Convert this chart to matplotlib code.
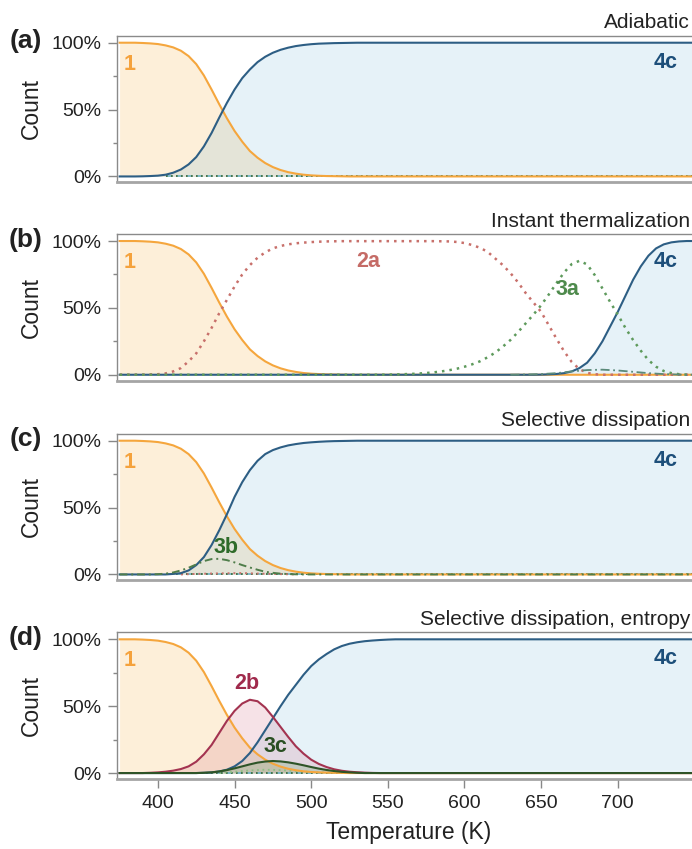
import matplotlib
matplotlib.use("Agg")
import matplotlib.pyplot as plt
from matplotlib.ticker import FixedLocator, PercentFormatter

plt.rcParams['font.family'] = ['Liberation Sans', 'DejaVu Sans']

# ---------------- data (fraction of count vs temperature in K) ----------------
# species 1 (shared by all panels)
s1_T = [375, 380, 385, 390, 395, 400, 405, 410, 415, 420, 425, 430, 435, 440, 445,
        450, 455, 460, 465, 470, 475, 480, 485, 490, 495, 500, 505, 510, 515, 520,
        525, 750]
s1_v = [1.0, 1.0, 1.0, 0.998, 0.995, 0.99, 0.98, 0.965, 0.94, 0.90, 0.84, 0.755,
        0.65, 0.54, 0.435, 0.34, 0.26, 0.19, 0.14, 0.10, 0.07, 0.048, 0.032, 0.021,
        0.013, 0.008, 0.005, 0.003, 0.002, 0.001, 0.0, 0.0]

# (a) adiabatic: 4c
a4c_T = [375, 385, 390, 395, 400, 405, 410, 415, 420, 425, 430, 435, 440, 445, 450,
         455, 460, 465, 470, 475, 480, 485, 490, 495, 500, 505, 510, 515, 520, 525,
         530, 750]
a4c_v = [0.0, 0.0, 0.001, 0.003, 0.006, 0.013, 0.028, 0.052, 0.09, 0.145, 0.225,
         0.325, 0.44, 0.55, 0.65, 0.735, 0.80, 0.855, 0.895, 0.925, 0.947, 0.963,
         0.975, 0.983, 0.989, 0.993, 0.995, 0.997, 0.998, 0.999, 1.0, 1.0]

# (b) instant thermalization: 2a, 3a, 4c, minor bump
b2a_T = [375, 390, 395, 400, 405, 410, 415, 420, 425, 430, 435, 440, 445, 450, 455,
         460, 465, 470, 475, 480, 485, 490, 495, 500, 505, 510, 520, 580, 590, 595,
         600, 605, 610, 615, 620, 625, 630, 635, 640, 645, 650, 655, 660, 665, 670,
         675, 680, 685, 690, 750]
b2a_v = [0.0, 0.0, 0.002, 0.004, 0.01, 0.025, 0.05, 0.10, 0.16, 0.25, 0.35, 0.46,
         0.56, 0.66, 0.75, 0.82, 0.875, 0.915, 0.945, 0.963, 0.975, 0.983, 0.988,
         0.992, 0.995, 0.997, 0.999, 0.999, 0.997, 0.993, 0.985, 0.97, 0.95, 0.92,
         0.87, 0.82, 0.76, 0.69, 0.61, 0.54, 0.47, 0.37, 0.27, 0.175, 0.095, 0.042,
         0.014, 0.004, 0.0, 0.0]
b3a_T = [375, 545, 550, 555, 560, 565, 570, 575, 580, 585, 590, 595, 600, 605, 610,
         615, 620, 625, 630, 635, 640, 645, 650, 655, 660, 665, 670, 675, 680, 685,
         690, 695, 700, 705, 710, 715, 720, 725, 730, 735, 740, 745, 750]
b3a_v = [0.0, 0.0, 0.001, 0.002, 0.004, 0.006, 0.009, 0.013, 0.018, 0.025, 0.034,
         0.045, 0.06, 0.078, 0.10, 0.13, 0.165, 0.21, 0.26, 0.32, 0.385, 0.45, 0.52,
         0.60, 0.685, 0.765, 0.828, 0.852, 0.825, 0.745, 0.645, 0.545, 0.45, 0.35,
         0.26, 0.18, 0.11, 0.06, 0.028, 0.012, 0.004, 0.001, 0.0]
b4c_T = [375, 645, 650, 655, 660, 665, 670, 675, 680, 685, 690, 695, 700, 705, 710,
         715, 720, 725, 730, 735, 740, 745, 750]
b4c_v = [0.0, 0.0, 0.001, 0.003, 0.006, 0.012, 0.025, 0.05, 0.09, 0.16, 0.25, 0.36,
         0.47, 0.59, 0.71, 0.81, 0.89, 0.945, 0.975, 0.99, 0.997, 1.0, 1.0]
b_minor_T = [630, 640, 650, 660, 670, 680, 690, 700, 710, 720, 730, 740, 750]
b_minor_v = [0.0, 0.002, 0.005, 0.012, 0.025, 0.035, 0.038, 0.032, 0.022, 0.012,
             0.005, 0.001, 0.0]

# (c) selective dissipation: 3b, 4c, minor 2a
c4c_T = [375, 405, 410, 415, 420, 425, 430, 435, 440, 445, 450, 455, 460, 465, 470,
         475, 480, 485, 490, 495, 500, 505, 510, 515, 520, 525, 530, 750]
c4c_v = [0.0, 0.0, 0.004, 0.01, 0.03, 0.07, 0.13, 0.22, 0.33, 0.45, 0.58, 0.69,
         0.78, 0.85, 0.90, 0.93, 0.95, 0.965, 0.975, 0.983, 0.988, 0.992, 0.995,
         0.997, 0.998, 0.999, 1.0, 1.0]
c3b_T = [375, 395, 400, 405, 410, 415, 420, 425, 430, 435, 440, 445, 450, 455, 460,
         465, 470, 475, 480, 485, 490, 495, 750]
c3b_v = [0.0, 0.0, 0.002, 0.006, 0.015, 0.03, 0.05, 0.075, 0.10, 0.115, 0.117,
         0.107, 0.09, 0.07, 0.052, 0.035, 0.02, 0.012, 0.006, 0.003, 0.001, 0.0, 0.0]
c2a_T = [415, 425, 440, 455, 470, 490]
c2a_v = [0.0, 0.004, 0.008, 0.01, 0.005, 0.0]

# (d) selective dissipation, entropy: 2b, 3c, 4c, minor
d2b_T = [375, 390, 395, 400, 405, 410, 415, 420, 425, 430, 435, 440, 445, 450, 455,
         460, 465, 470, 475, 480, 485, 490, 495, 500, 505, 510, 515, 520, 525, 530,
         535, 540, 545, 750]
d2b_v = [0.0, 0.0, 0.002, 0.005, 0.01, 0.018, 0.03, 0.05, 0.085, 0.14, 0.21, 0.30,
         0.39, 0.465, 0.52, 0.548, 0.537, 0.49, 0.42, 0.345, 0.27, 0.20, 0.145, 0.10,
         0.068, 0.045, 0.028, 0.017, 0.01, 0.006, 0.003, 0.001, 0.0, 0.0]
d3c_T = [375, 425, 430, 435, 440, 445, 450, 455, 460, 465, 470, 475, 480, 485, 490,
         495, 500, 505, 510, 515, 520, 525, 530, 535, 750]
d3c_v = [0.0, 0.0, 0.002, 0.005, 0.012, 0.022, 0.035, 0.05, 0.065, 0.078, 0.086,
         0.09, 0.087, 0.08, 0.07, 0.058, 0.045, 0.033, 0.023, 0.015, 0.009, 0.005,
         0.002, 0.0, 0.0]
d4c_T = [375, 425, 430, 435, 440, 445, 450, 455, 460, 465, 470, 475, 480, 485, 490,
         495, 500, 505, 510, 515, 520, 525, 530, 535, 540, 545, 550, 555, 750]
d4c_v = [0.0, 0.0, 0.002, 0.005, 0.012, 0.025, 0.05, 0.09, 0.15, 0.23, 0.32, 0.41,
         0.50, 0.585, 0.66, 0.735, 0.80, 0.85, 0.89, 0.925, 0.95, 0.967, 0.978, 0.986,
         0.991, 0.995, 0.998, 1.0, 1.0]
d_minor_T = [440, 450, 460, 470, 480, 490, 500, 510, 520]
d_minor_v = [0.0, 0.01, 0.02, 0.025, 0.022, 0.015, 0.008, 0.003, 0.0]

# near-zero traces of other species
trace_T = [405, 750]
trace_v = [0.0, 0.0]

titles = ["Adiabatic", "Instant thermalization", "Selective dissipation",
          "Selective dissipation, entropy"]
letters = ["(a)", "(b)", "(c)", "(d)"]
xticks = [400, 450, 500, 550, 600, 650, 700]

# ---------------- style ----------------
C1 = '#f5a63d'; F1 = '#f5b041'
C4 = '#2d5e84'; F4 = '#5aaad6'
C2a = '#c8706b'; C3a = '#5e9a5c'; C3b = '#4f7d4a'
C2b = '#a33350'; F2b = '#d0607a'
C3c = '#2e5427'; F3c = '#6aa060'
L1 = '#f5a23c'; L4 = '#1d4f7a'
LFS = 15.5

W, H = 692, 849
fig = plt.figure(figsize=(W / 100, H / 100), dpi=100)
left = 117 / W
width = (694.4 - 117) / W
tops_px = [35.7, 234.0, 433.7, 632.3]
ax_h_px = 146.5

axes = []
for i, top in enumerate(tops_px):
    ax = fig.add_axes([left, 1 - (top + ax_h_px) / H, width, ax_h_px / H])
    axes.append(ax)
    ax.set_xlim(373.3, 750)
    ax.set_ylim(-0.043, 1.0525)
    ax.yaxis.set_major_locator(FixedLocator([0, 0.5, 1.0]))
    ax.yaxis.set_minor_locator(FixedLocator([0.25, 0.75]))
    ax.yaxis.set_major_formatter(PercentFormatter(1.0, decimals=0))
    ax.tick_params(axis='y', which='major', length=6.5, width=1.0, color='#888888',
                   labelsize=14, pad=5, labelcolor='#222222')
    ax.tick_params(axis='y', which='minor', length=3, width=1.0, color='#888888')
    for s in ['top', 'left']:
        ax.spines[s].set_color('#8a8a8a')
        ax.spines[s].set_linewidth(1.0)
    ax.spines['right'].set_visible(False)
    ax.spines['bottom'].set_color('#a5a5a5')
    ax.spines['bottom'].set_linewidth(2.0)
    ax.set_ylabel('Count', fontsize=16.5, va='center', color='#222222')
    ax.yaxis.set_label_coords((31 - 117) / (694.4 - 117), 0.5)
    if i < 3:
        ax.tick_params(axis='x', which='both', bottom=False, labelbottom=False)
    else:
        ax.set_xticks(xticks)
        ax.tick_params(axis='x', length=6.5, width=1.0, color='#888888',
                       labelsize=14, pad=5, labelcolor='#222222')
    ax.text((690 - 117) / (694.4 - 117), 1 + 7.5 / ax_h_px, titles[i],
            transform=ax.transAxes, ha='right', va='baseline', fontsize=15,
            color='#222222')
    fig.text(26 / W, 1 - (top + 5.5) / H, letters[i], ha='center', va='center',
             fontsize=19, fontweight='bold', color='#222222')

    # species 1 in every panel
    ax.fill_between(s1_T, 0, s1_v, color=F1, alpha=0.2, linewidth=0)
    ax.text(377.8, 0.84, '1', color=L1, fontsize=LFS, fontweight='bold',
            ha='left', va='center')

lw = 1.5
# (a)
ax = axes[0]
ax.fill_between(a4c_T, 0, a4c_v, color=F4, alpha=0.15, linewidth=0)
ax.plot(trace_T, trace_v, color='#6fb3c9', lw=1.2, ls=(0, (4, 2)))
ax.plot(trace_T, trace_v, color='#3d6b35', lw=1.2, ls=(0, (1, 2)))
ax.plot(s1_T, s1_v, color=C1, lw=lw)
ax.plot(a4c_T, a4c_v, color=C4, lw=lw)
ax.text(731, 0.85, '4c', color=L4, fontsize=LFS, fontweight='bold', ha='center', va='center')

# (b)
ax = axes[1]
ax.fill_between(b4c_T, 0, b4c_v, color=F4, alpha=0.15, linewidth=0)
ax.plot(s1_T, s1_v, color=C1, lw=lw)
ax.plot(b4c_T, b4c_v, color=C4, lw=lw)
ax.plot(b2a_T, b2a_v, color=C2a, lw=1.8, ls=(0, (1, 2)))
ax.plot(b3a_T, b3a_v, color=C3a, lw=1.8, ls=(0, (1, 2)))
ax.plot(b_minor_T, b_minor_v, color='#5b8a7a', lw=1.3, ls=(0, (5, 2, 1, 2)))
ax.text(537.4, 0.847, '2a', color='#c56b66', fontsize=LFS, fontweight='bold', ha='center', va='center')
ax.text(667, 0.635, '3a', color='#4e8a4c', fontsize=LFS, fontweight='bold', ha='center', va='center')
ax.text(731, 0.847, '4c', color=L4, fontsize=LFS, fontweight='bold', ha='center', va='center')

# (c)
ax = axes[2]
ax.fill_between(c4c_T, 0, c4c_v, color=F4, alpha=0.15, linewidth=0)
ax.plot(trace_T, trace_v, color='#6fb3c9', lw=1.2, ls=(0, (4, 2)))
ax.plot(trace_T, trace_v, color='#3d6b35', lw=1.2, ls=(0, (1, 2)))
ax.plot(c2a_T, c2a_v, color=C2a, lw=1.4, ls=(0, (1, 2)))
ax.plot(s1_T, s1_v, color=C1, lw=lw)
ax.plot(c4c_T, c4c_v, color=C4, lw=lw)
ax.plot(c3b_T, c3b_v, color=C3b, lw=1.4, ls=(0, (4, 2, 1, 2)))
ax.text(444.6, 0.205, '3b', color='#2f6b2a', fontsize=LFS, fontweight='bold', ha='center', va='center')
ax.text(731, 0.85, '4c', color=L4, fontsize=LFS, fontweight='bold', ha='center', va='center')

# (d)
ax = axes[3]
ax.fill_between(d4c_T, 0, d4c_v, color=F4, alpha=0.15, linewidth=0)
ax.fill_between(d2b_T, 0, d2b_v, color=F2b, alpha=0.18, linewidth=0)
ax.fill_between(d3c_T, 0, d3c_v, color=F3c, alpha=0.25, linewidth=0)
ax.plot(trace_T, trace_v, color='#6fb3c9', lw=1.2, ls=(0, (4, 2)))
ax.plot(trace_T, trace_v, color='#3d6b35', lw=1.2, ls=(0, (1, 2)))
ax.plot(d_minor_T, d_minor_v, color='#8fbf85', lw=1.3, ls=(0, (1, 2)))
ax.plot(s1_T, s1_v, color=C1, lw=lw)
ax.plot(d4c_T, d4c_v, color=C4, lw=lw)
ax.plot(d2b_T, d2b_v, color=C2b, lw=lw)
ax.plot(d3c_T, d3c_v, color=C3c, lw=lw)
ax.text(457.7, 0.67, '2b', color='#a02a4c', fontsize=LFS, fontweight='bold', ha='center', va='center')
ax.text(476.6, 0.195, '3c', color='#2a4f22', fontsize=LFS, fontweight='bold', ha='center', va='center')
ax.text(731, 0.86, '4c', color=L4, fontsize=LFS, fontweight='bold', ha='center', va='center')

fig.text(409 / W, 1 - 833 / H, 'Temperature (K)', ha='center', va='center',
         fontsize=16.5, color='#222222')

fig.savefig('out.png', dpi=100)
